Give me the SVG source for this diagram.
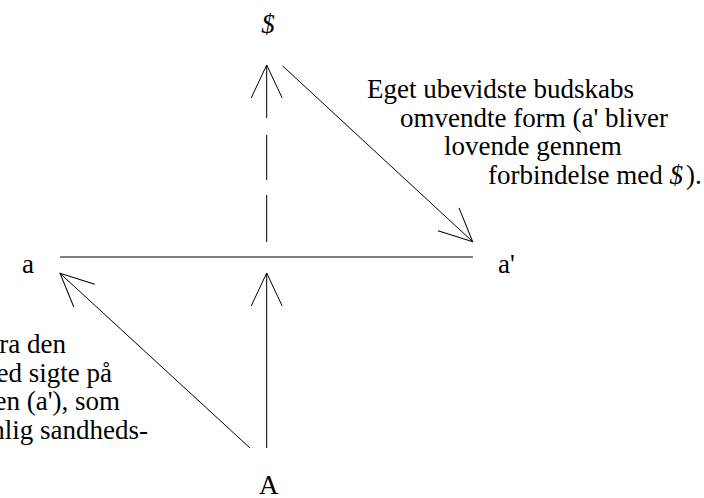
<svg xmlns="http://www.w3.org/2000/svg" width="704" height="498" viewBox="0 0 704 498">
<style>
text { font-family: "Liberation Serif", "Times New Roman", serif; font-size: 27px; fill: #000; }
.it { font-style: italic; }
.ln { stroke: #000; stroke-width: 1; fill: none; }
</style>
<defs>
<marker id="arr" markerUnits="userSpaceOnUse" markerWidth="40" markerHeight="40" refX="0" refY="0" orient="auto" overflow="visible">
<path d="M -33,-15.5 L 0,0 L -33,15.5" fill="none" stroke="#000" stroke-width="1"/>
</marker>
</defs>
<rect width="704" height="498" fill="#fff"/>
<g id="connectors">
<line class="ln" x1="60" y1="257" x2="473" y2="257"/>
<line class="ln" x1="266.7" y1="448" x2="266.7" y2="273" marker-end="url(#arr)"/>
<line class="ln" x1="250" y1="448" x2="60" y2="273.3" marker-end="url(#arr)"/>
<line class="ln" x1="282.7" y1="66" x2="472.7" y2="241.7" marker-end="url(#arr)"/>
<line class="ln" x1="266.7" y1="242" x2="266.7" y2="195"/>
<line class="ln" x1="266.7" y1="180" x2="266.7" y2="135"/>
<line class="ln" x1="266.7" y1="118" x2="266.7" y2="65" marker-end="url(#arr)"/>
</g>
<g id="node-dollar"><text class="it" x="268" y="33" text-anchor="middle">$</text></g>
<g id="node-a"><text x="22" y="273">a</text></g>
<g id="node-a-prime"><text x="498" y="273">a'</text></g>
<g id="node-A"><text x="259" y="494">A</text></g>
<g id="label-right">
<text x="367" y="98">Eget ubevidste budskabs</text>
<text x="400" y="126.5">omvendte form (a' bliver</text>
<text x="444" y="155">lovende gennem</text>
<text x="488" y="183.5">forbindelse med <tspan class="it">$</tspan><tspan dx="3">).</tspan></text>
</g>
<g id="label-left">
<text x="66" y="353" text-anchor="end">ra den</text>
<text x="112" y="381.5" text-anchor="end">ed sigte på</text>
<text x="120" y="410" text-anchor="end">en (a'), som</text>
<text x="148" y="438.5" text-anchor="end">nlig sandheds-</text>
</g>
</svg>
